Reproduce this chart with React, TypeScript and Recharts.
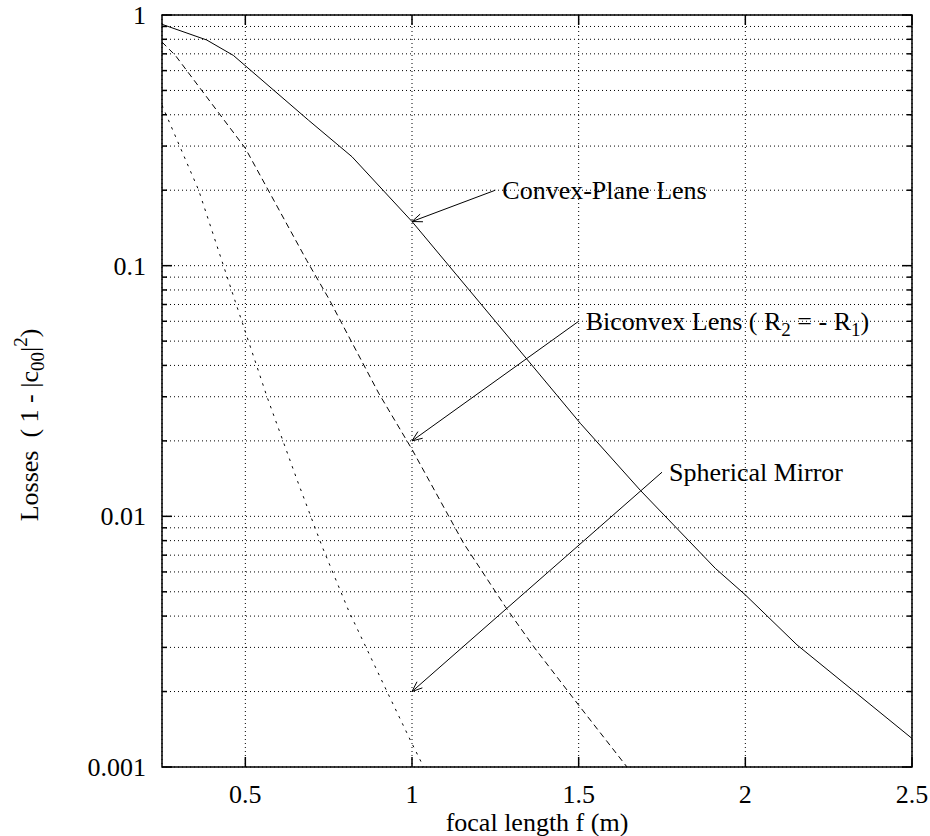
import React from 'react';
import {
  LineChart, Line, XAxis, YAxis, CartesianGrid, ReferenceArea, ReferenceLine, ReferenceDot,
} from 'recharts';

// values
const convexX = [0.25, 0.384, 0.464, 0.689, 0.82, 1.0, 1.25, 1.505, 1.685, 1.91, 2.0, 2.155, 2.5];
const convexY = [0.918, 0.795, 0.69, 0.381, 0.272, 0.15, 0.06, 0.0235, 0.0127, 0.0062, 0.00486, 0.00307, 0.0013];

const biconvexX = [0.25, 0.29, 0.5, 0.684, 0.75, 0.9, 1.0, 1.155, 1.28, 1.365, 1.495, 1.645];
const biconvexY = [0.78, 0.69, 0.294, 0.105, 0.074, 0.031, 0.0185, 0.0078, 0.00436, 0.00302, 0.0018, 0.001];

const mirrorX = [0.25, 0.36, 0.47, 0.565, 0.655, 0.73, 0.81, 0.925, 1.0, 1.035];
const mirrorY = [0.437, 0.2, 0.0718, 0.03, 0.014, 0.0076, 0.0042, 0.002, 0.00124, 0.001];

const xTicks = [0.5, 1, 1.5, 2, 2.5];
const yTicks = [
  0.001, 0.002, 0.003, 0.004, 0.005, 0.006, 0.007, 0.008, 0.009,
  0.01, 0.02, 0.03, 0.04, 0.05, 0.06, 0.07, 0.08, 0.09,
  0.1, 0.2, 0.3, 0.4, 0.5, 0.6, 0.7, 0.8, 0.9,
  1,
];
const yLabels = [1, 0.1, 0.01, 0.001];

// annotations: label anchor (arrow tail) -> arrow tip
const arrows = [
  { from: { x: 1.25, y: 0.2 }, to: { x: 1, y: 0.15 } },
  { from: { x: 1.5, y: 0.06 }, to: { x: 1, y: 0.02 } },
  { from: { x: 1.75, y: 0.015 }, to: { x: 1, y: 0.002 } },
];

const toPoints = (xs: number[], ys: number[]) => xs.map((x, i) => ({ x, y: ys[i] }));
const convexData = toPoints(convexX, convexY);
const biconvexData = toPoints(biconvexX, biconvexY);
const mirrorData = toPoints(mirrorX, mirrorY);

const W = 930;
const H = 836;
const PLOT_LEFT = 162;
const PLOT_RIGHT = 912;
const PLOT_TOP = 15;
const PLOT_BOTTOM = 767;
const FONT = "'Liberation Serif', 'Times New Roman', Times, 'DejaVu Serif', serif";
const FS = 26;
const txt = { fontFamily: FONT, fontSize: FS, fill: '#000' };

const XTick = (props: any) => {
  const { x, payload } = props;
  return (
    <g>
      <line x1={x} x2={x} y1={PLOT_BOTTOM} y2={PLOT_BOTTOM - 10} stroke="#000" strokeWidth={1.5} />
      <line x1={x} x2={x} y1={PLOT_TOP} y2={PLOT_TOP + 10} stroke="#000" strokeWidth={1.5} />
      <text x={x} y={PLOT_BOTTOM + 36} textAnchor="middle" style={txt}>
        {String(payload.value)}
      </text>
    </g>
  );
};

const YTick = (props: any) => {
  const { y, payload } = props;
  const major = yLabels.includes(payload.value);
  const len = major ? 10 : 5;
  return (
    <g>
      <line x1={PLOT_LEFT} x2={PLOT_LEFT + len} y1={y} y2={y} stroke="#000" strokeWidth={1.5} />
      <line x1={PLOT_RIGHT} x2={PLOT_RIGHT - len} y1={y} y2={y} stroke="#000" strokeWidth={1.5} />
      {major && (
        <text x={146} y={y + 9} textAnchor="end" style={txt}>
          {String(payload.value)}
        </text>
      )}
    </g>
  );
};

const ArrowShape = (props: any) => {
  const { x1, y1, x2, y2 } = props;
  const a = Math.atan2(y1 - y2, x1 - x2);
  const len = 11;
  const spread = 0.38;
  const w1x = x2 + len * Math.cos(a + spread);
  const w1y = y2 + len * Math.sin(a + spread);
  const w2x = x2 + len * Math.cos(a - spread);
  const w2y = y2 + len * Math.sin(a - spread);
  return (
    <g>
      <line x1={x1} y1={y1} x2={x2} y2={y2} stroke="#000" strokeWidth={1} />
      <polyline points={`${w1x},${w1y} ${x2},${y2} ${w2x},${w2y}`} fill="none" stroke="#000" strokeWidth={1} />
    </g>
  );
};

const makeLabel = (children: React.ReactNode) => (props: any) => {
  const vb = props.viewBox || {};
  return (
    <text x={vb.x + 7} y={vb.y + 9} style={{ ...txt, whiteSpace: 'pre' }}>
      {children}
    </text>
  );
};

const convexLabel = makeLabel('Convex-Plane Lens');
const biconvexLabel = makeLabel(
  <>
    <tspan>Biconvex Lens ( R</tspan>
    <tspan fontSize={19} dy={6}>2</tspan>
    <tspan dy={-6}> = - R</tspan>
    <tspan fontSize={19} dy={6}>1</tspan>
    <tspan dy={-6}>)</tspan>
  </>
);
const mirrorLabel = makeLabel('Spherical Mirror');
const labels = [convexLabel, biconvexLabel, mirrorLabel];

const YLabel = () => (
  <text
    transform={`translate(38, 425) rotate(-90)`}
    textAnchor="middle"
    style={{ ...txt, whiteSpace: 'pre' }}
  >
    <tspan>Losses  ( 1 - |c</tspan>
    <tspan fontSize={19} dy={6}>00</tspan>
    <tspan dy={-6}>|</tspan>
    <tspan fontSize={19} dy={-11}>2</tspan>
    <tspan dy={11}>)</tspan>
  </text>
);

const XLabel = () => (
  <text x={(PLOT_LEFT + PLOT_RIGHT) / 2} y={831} textAnchor="middle" style={txt}>
    focal length f (m)
  </text>
);

export default function App() {
  return (
    <div style={{ position: 'absolute', left: 0, top: 0, width: W, height: H, background: '#fff', fontFamily: FONT }}>
      <LineChart width={W} height={H} margin={{ top: PLOT_TOP, right: W - PLOT_RIGHT, left: 0, bottom: 0 }}>
        <CartesianGrid stroke="#000" strokeWidth={1} strokeDasharray="1 3" />
        <XAxis
          type="number"
          dataKey="x"
          domain={[0.25, 2.5]}
          ticks={xTicks}
          interval={0}
          allowDataOverflow
          height={H - PLOT_BOTTOM}
          axisLine={false}
          tickLine={false}
          tick={<XTick />}
          label={<XLabel />}
        />
        <YAxis
          type="number"
          scale="log"
          domain={[0.001, 1]}
          ticks={yTicks}
          interval={0}
          allowDataOverflow
          width={PLOT_LEFT}
          axisLine={false}
          tickLine={false}
          tick={<YTick />}
          label={<YLabel />}
        />
        <Line data={convexData} dataKey="y" type="linear" stroke="#000" strokeWidth={1} dot={false} isAnimationActive={false} />
        <Line data={biconvexData} dataKey="y" type="linear" stroke="#000" strokeWidth={1} strokeDasharray="6 4" dot={false} isAnimationActive={false} />
        <Line data={mirrorData} dataKey="y" type="linear" stroke="#000" strokeWidth={1} strokeDasharray="2.5 5.5" dot={false} isAnimationActive={false} />
        <ReferenceArea x1={0.25} x2={2.5} y1={0.001} y2={1} fill="none" stroke="#000" strokeWidth={1.5} ifOverflow="visible" />
        {arrows.map((a, i) => (
          <ReferenceLine key={`arrow-${i}`} segment={[a.from, a.to]} shape={ArrowShape} ifOverflow="visible" />
        ))}
        {arrows.map((a, i) => (
          <ReferenceDot key={`label-${i}`} x={a.from.x} y={a.from.y} r={0} fill="none" stroke="none" ifOverflow="visible" label={labels[i]} />
        ))}
      </LineChart>
    </div>
  );
}
